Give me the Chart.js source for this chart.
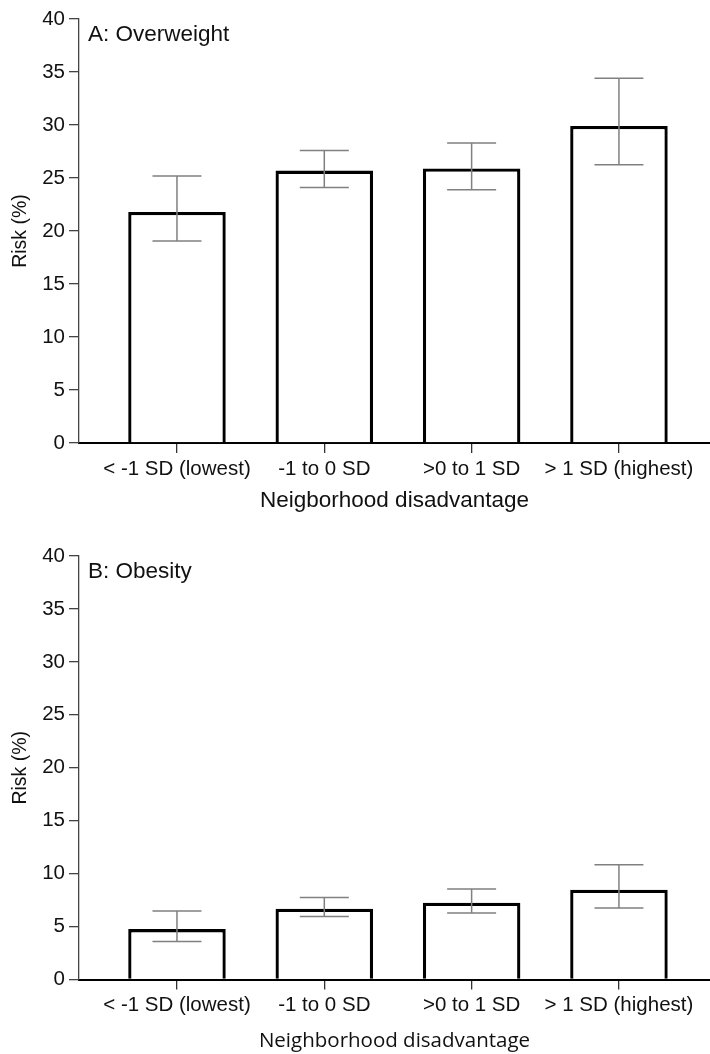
<!DOCTYPE html>
<html><head><meta charset="utf-8">
<script src="https://cdn.jsdelivr.net/npm/chart.js@4/dist/chart.umd.min.js"></script>
<style>html,body{margin:0;padding:0;background:#fff;} canvas{display:block;}</style>
</head><body>
<canvas id="cA" width="710" height="530"></canvas>
<canvas id="cB" width="710" height="524"></canvas>
<script>
// ---- data ----
const categories = ['< -1 SD (lowest)', '-1 to 0 SD', '>0 to 1 SD', '> 1 SD (highest)'];
const yTickStep = 5;
const yMax = 40;
const overweightRisk  = [21.8, 25.7, 25.9, 29.9];
const overweightLower = [19.05, 24.1, 23.9, 26.25];
const overweightUpper = [25.2, 27.6, 28.3, 34.4];
const obesityRisk  = [4.76, 6.68, 7.25, 8.47];
const obesityLower = [3.6, 5.96, 6.27, 6.75];
const obesityUpper = [6.46, 7.75, 8.54, 10.83];

const ARIAL = "'Liberation Sans', Arial, Helvetica, sans-serif";

const errorBars = {
  id: 'errorBars',
  afterDatasetsDraw(chart, args, opts) {
    const {ctx, scales: {x, y}} = chart;
    ctx.save();
    ctx.strokeStyle = opts.color;
    ctx.lineWidth = opts.width;
    opts.lower.forEach((lo, i) => {
      const px = x.getPixelForValue(i);
      const pLo = y.getPixelForValue(lo);
      const pHi = y.getPixelForValue(opts.upper[i]);
      const h = opts.cap / 2;
      ctx.beginPath();
      ctx.moveTo(px, pHi); ctx.lineTo(px, pLo);
      ctx.moveTo(px - h, pHi); ctx.lineTo(px + h, pHi);
      ctx.moveTo(px - h, pLo); ctx.lineTo(px + h, pLo);
      ctx.stroke();
    });
    ctx.restore();
  }
};

const panelLabel = {
  id: 'panelLabel',
  afterDraw(chart, args, opts) {
    const {ctx, chartArea} = chart;
    ctx.save();
    ctx.font = opts.font;
    ctx.fillStyle = '#111';
    ctx.textBaseline = 'alphabetic';
    ctx.fillText(opts.text, chartArea.left + opts.dx, chartArea.top + opts.dy);
    ctx.restore();
  }
};

function makeChart(id, values, lower, upper, panel, cfg) {
  return new Chart(document.getElementById(id), {
    type: 'bar',
    data: {
      datasets: [{
        data: values.map((v, i) => ({x: i, y: v})),
        backgroundColor: '#ffffff',
        borderColor: '#000000',
        borderWidth: 3.3,
        borderSkipped: 'bottom',
        categoryPercentage: 0.662,
        barPercentage: 1
      }]
    },
    options: {
      responsive: false,
      animation: false,
      devicePixelRatio: 1,
      layout: {padding: {top: cfg.top, left: 0, right: 0, bottom: 0}},
      plugins: {
        legend: {display: false},
        tooltip: {enabled: false},
        errorBars: {lower, upper, color: '#808080', width: 1.5, cap: 49},
        panelLabel: {text: panel, font: "22.5px " + ARIAL, dx: 9, dy: 22}
      },
      scales: {
        x: {
          type: 'linear',
          offset: false,
          min: -0.665,
          max: 3.618,
          afterBuildTicks: s => { s.ticks = categories.map((c, i) => ({value: i})); },
          afterFit: s => { s.height = cfg.xHeight; },
          ticks: {
            callback: v => categories[v],
            font: {family: ARIAL, size: 20.5},
            color: '#111',
            padding: 4,
            autoSkip: false,
            maxRotation: 0
          },
          grid: {offset: false, drawOnChartArea: false, drawTicks: true, tickLength: 10, color: '#333', lineWidth: 1.3},
          border: {display: true, color: '#000', width: 2},
          title: {display: true, text: cfg.xTitle, font: cfg.xTitleFont, color: '#111', padding: {top: 0, bottom: cfg.xTitlePad}}
        },
        y: {
          min: 0,
          max: yMax,
          afterFit: s => { s.width = 79; },
          ticks: {stepSize: yTickStep, font: {family: ARIAL, size: 20.5}, color: '#111', padding: 4},
          grid: {drawOnChartArea: false, drawTicks: true, tickLength: 10, color: '#444', lineWidth: 1.3},
          border: {display: true, color: '#444', width: 1.3},
          title: {display: true, text: 'Risk (%)', font: {family: ARIAL, size: 19.5}, color: '#111', padding: {top: 9, bottom: 0}}
        }
      }
    },
    plugins: [errorBars, panelLabel]
  });
}

makeChart('cA', overweightRisk, overweightLower, overweightUpper, 'A: Overweight', {
  top: 19, xHeight: 87, xTitle: 'Neigborhood disadvantage',
  xTitleFont: {family: ARIAL, size: 22.5}, xTitlePad: 16
});
makeChart('cB', obesityRisk, obesityLower, obesityUpper, 'B: Obesity', {
  top: 26, xHeight: 74.5, xTitle: 'Neighborhood disadvantage',
  xTitleFont: {family: "'Open Sans', 'Noto Sans', sans-serif", size: 20.5}, xTitlePad: 1
});
</script>
</body></html>
